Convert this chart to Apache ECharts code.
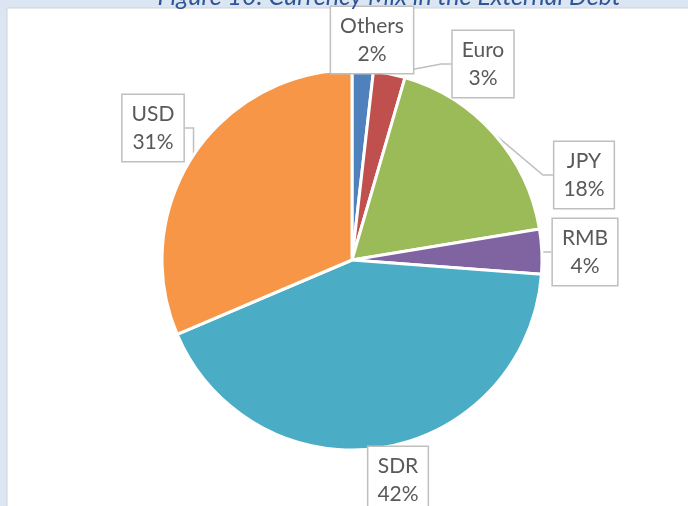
<!DOCTYPE html>
<html>
<head>
<meta charset="utf-8">
<script src="https://cdn.jsdelivr.net/npm/echarts@6/dist/echarts.min.js"></script>
<style>
  html, body { margin: 0; padding: 0; background: #dce6f2; }
  #chart { width: 688px; height: 506px; }
</style>
</head>
<body>
<div id="chart"></div>
<script>
// currency shares of external debt, percent
const currencies = ['Others', 'Euro', 'JPY', 'RMB', 'SDR', 'USD'];
const shares = [1.8, 2.7, 17.9, 3.8, 42.4, 31.4];
const colors = ['#4f81bd', '#c0504d', '#9bbb59', '#8064a2', '#4bacc6', '#f79646'];

// where each callout box sits (centre, px)
const labelSpots = [[372, 40], [483, 64], [153, 128], [584, 175], [585, 252], [398, 480]];
const spotIndex = { Others: 0, Euro: 1, USD: 2, JPY: 3, RMB: 4, SDR: 5 };

let myChart = echarts.init(document.getElementById('chart'));
let option = {
  backgroundColor: '#dce6f2',
  animation: false,
  title: {
    text: 'Figure 10: Currency Mix in the External Debt',
    left: 384,
    textAlign: 'center',
    top: -21,
    textStyle: {
      color: '#2f5597',
      fontStyle: 'italic',
      fontWeight: 'normal',
      fontSize: 25,
      fontFamily: 'Lato, "Open Sans", sans-serif'
    }
  },
  graphic: [{
    type: 'rect',
    z: -10,
    shape: { x: 7, y: 8, width: 700, height: 520 },
    style: { fill: '#ffffff', stroke: '#d0d3d8', lineWidth: 1 }
  }],
  series: [{
    type: 'pie',
    center: [352, 260],
    radius: 190,
    startAngle: 90,
    clockwise: true,
    data: currencies.map((name, i) => ({
      name: name,
      value: shares[i],
      itemStyle: { color: colors[i] }
    })),
    itemStyle: { borderColor: '#ffffff', borderWidth: 3 },
    label: {
      show: true,
      position: 'outside',
      formatter: (p) => `${p.name}\n${Math.round(p.value)}%`,
      color: '#595959',
      fontSize: 21,
      lineHeight: 28,
      fontFamily: 'Lato, "Open Sans", sans-serif',
      align: 'center',
      backgroundColor: '#ffffff',
      borderColor: '#bfbfbf',
      borderWidth: 1.5,
      padding: [5, 9]
    },
    labelLine: {
      show: true,
      length: 10,
      length2: 10,
      lineStyle: { color: '#bfbfbf', width: 1.5 }
    },
    labelLayout: (params) => {
      let spot = labelSpots[spotIndex[currencies[params.dataIndex]]];
      return { x: spot[0], y: spot[1], align: 'center', verticalAlign: 'middle' };
    }
  }]
};
myChart.setOption(option);
</script>
</body>
</html>
